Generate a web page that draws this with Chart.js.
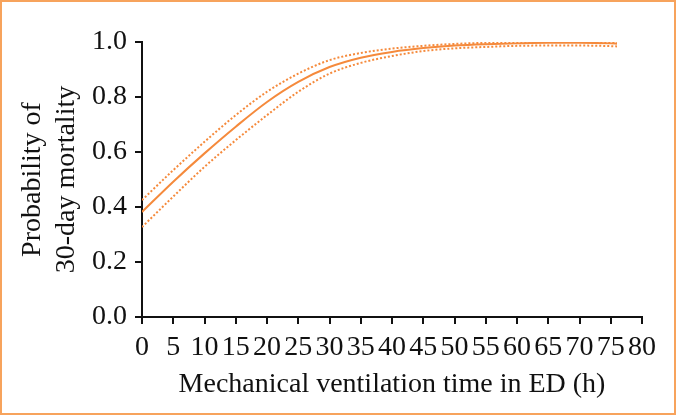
<!DOCTYPE html>
<html>
<head>
<meta charset="utf-8">
<script src="https://cdn.jsdelivr.net/npm/chart.js@4"></script>
<style>
html,body{margin:0;padding:0;background:#fff;}
#wrap{width:676px;height:415px;position:relative;}
</style>
</head>
<body>
<div id="wrap"><canvas id="c" width="676" height="415"></canvas></div>
<script>
const hours = [0,5,10,15,20,25,30,35,40,45,50,55,60,65,70,75,76];
const estimate = [0.382,0.492,0.595,0.692,0.782,0.855,0.909,0.943,0.964,0.978,0.987,0.992,0.995,0.997,0.997,0.995,0.994];
const upperCI = [0.425,0.534,0.637,0.734,0.819,0.885,0.934,0.960,0.976,0.986,0.993,0.997,0.999,1.000,1.000,0.999,0.999];
const lowerCI = [0.327,0.438,0.546,0.643,0.734,0.819,0.885,0.924,0.949,0.967,0.977,0.982,0.986,0.987,0.987,0.985,0.984];
const xTicks = [0,5,10,15,20,25,30,35,40,45,50,55,60,65,70,75,80];
const yTicks = [0,0.2,0.4,0.6,0.8,1.0];

const orange = '#F58A3C';
const fontFam = '"Liberation Serif", "DejaVu Serif", serif';
const pts = arr => hours.map((h,i)=>({x:h,y:arr[i]}));

const borderPlugin = {
  id:'frame',
  afterDraw(chart){
    const ctx = chart.ctx;
    ctx.save();
    ctx.strokeStyle = '#F7A35C';
    ctx.lineWidth = 2;
    ctx.strokeRect(1,1,674,413);
    ctx.restore();
  }
};

new Chart(document.getElementById('c'), {
  type:'line',
  data:{
    datasets:[
      {data:pts(estimate), borderColor:orange, borderWidth:2, pointRadius:0, cubicInterpolationMode:'monotone', fill:false},
      {data:pts(upperCI), borderColor:orange, borderWidth:2, borderDash:[2,2], pointRadius:0, cubicInterpolationMode:'monotone', fill:false},
      {data:pts(lowerCI), borderColor:orange, borderWidth:2, borderDash:[2,2], pointRadius:0, cubicInterpolationMode:'monotone', fill:false}
    ]
  },
  options:{
    responsive:false,
    animation:false,
    devicePixelRatio:1,
    layout:{padding:{left:16,right:34,top:42,bottom:0}},
    plugins:{legend:{display:false},tooltip:{enabled:false}},
    scales:{
      x:{
        type:'linear', min:0, max:80,
        afterBuildTicks(s){ s.ticks = xTicks.map(v=>({value:v})); },
        afterFit(s){ s.height = 98; },
        ticks:{autoSkip:false, maxRotation:0, minRotation:0, color:'#111', font:{family:fontFam,size:28}, padding:7},
        grid:{display:true, drawOnChartArea:false, drawTicks:true, tickLength:7, color:'#111', lineWidth:2},
        border:{display:true, color:'#111', width:2},
        title:{display:true, text:'Mechanical ventilation time in ED (h)', color:'#111', font:{family:fontFam,size:28}, padding:{top:0,bottom:14}}
      },
      y:{
        type:'linear', min:0, max:1,
        afterBuildTicks(s){ s.ticks = yTicks.map(v=>({value:v})); },
        afterFit(s){ s.width = 126; },
        ticks:{color:'#111', font:{family:fontFam,size:28}, padding:8, callback:v=>v.toFixed(1)},
        grid:{display:true, drawOnChartArea:false, drawTicks:true, tickLength:7, color:'#111', lineWidth:2},
        border:{display:true, color:'#111', width:2},
        title:{display:true, text:['Probability of','30-day mortality'], color:'#111', font:{family:fontFam,size:28, lineHeight:1.2}, padding:{top:0,bottom:4}}
      }
    }
  },
  plugins:[borderPlugin]
});
</script>
</body>
</html>
